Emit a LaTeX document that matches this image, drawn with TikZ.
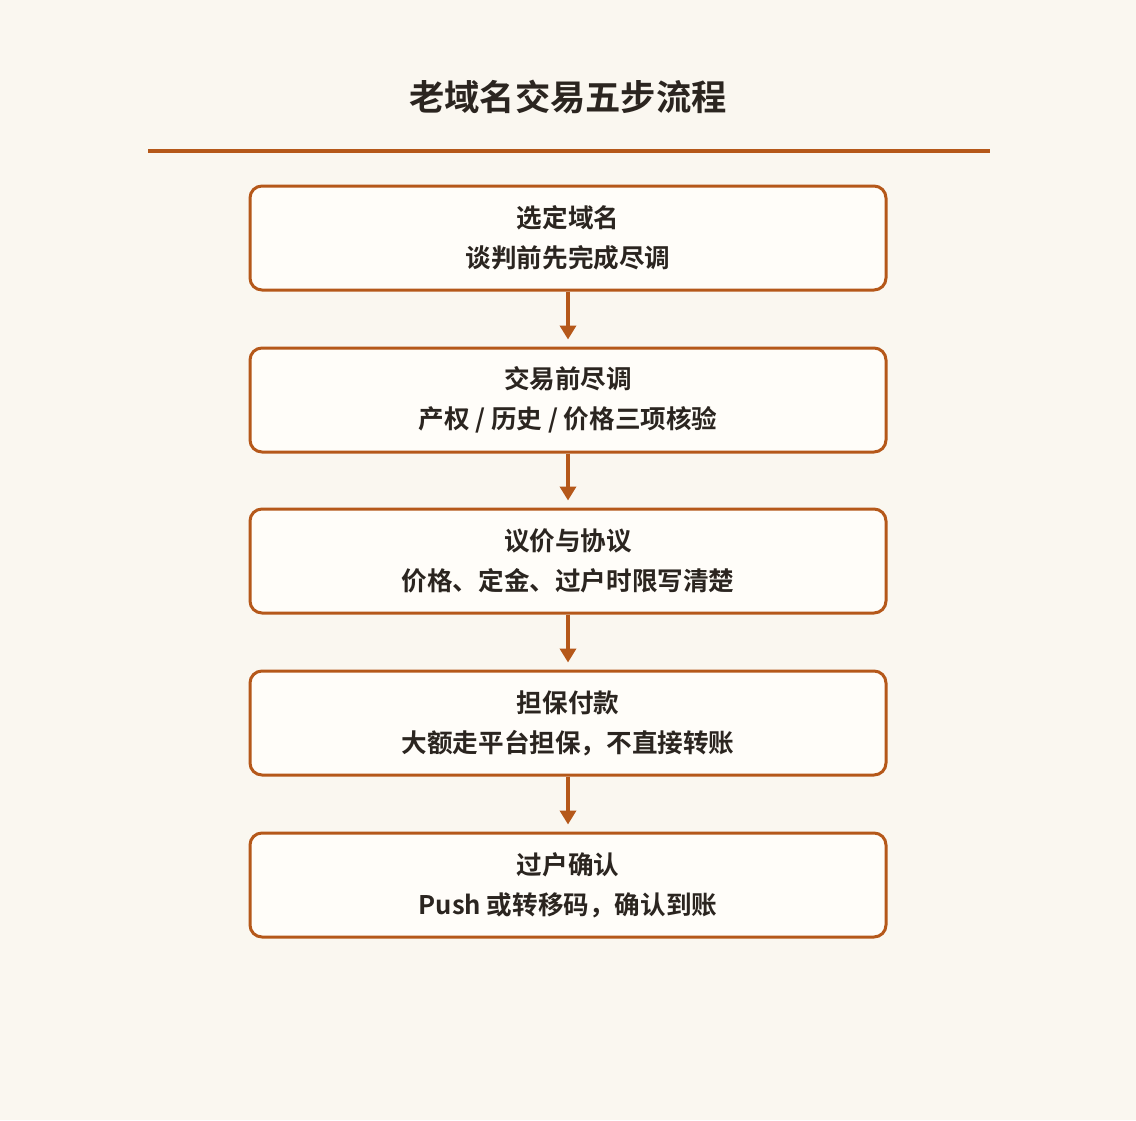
\documentclass[tikz,border=0pt]{standalone}
\usepackage{fontspec}
\setmainfont{Noto Sans CJK SC}[BoldFont={Noto Sans CJK SC Bold}]
\newfontfamily\cjkb{Noto Sans CJK SC Bold}
\usetikzlibrary{arrows.meta}
\definecolor{bgc}{HTML}{FAF7F0}
\definecolor{accent}{HTML}{B5581A}
\definecolor{boxfill}{HTML}{FFFDF9}
\definecolor{txt}{HTML}{2B2520}
\begin{document}
\begin{tikzpicture}[x=1pt,y=-1pt,
  stepbox/.style={draw=accent,line width=3pt,fill=boxfill,rounded corners=12pt,
    minimum width=636pt,minimum height=104pt,align=center,text=txt,
    font=\cjkb\fontsize{25.6}{40}\selectfont,inner sep=0pt},
  flow/.style={draw=accent,line width=3.5pt,-{Triangle[length=14pt,width=16pt]},shorten >=7pt}]
\fill[bgc] (0,0) rectangle (1136,1120);
\useasboundingbox (0,0) rectangle (1136,1120);
\node[text=txt,font=\cjkb\fontsize{35.3}{40}\selectfont] (title) at (568,97) {老域名交易五步流程};
\coordinate (rl) at (148,151);
\coordinate (rr) at (990,151);
\draw[accent,line width=4pt] (rl) -- (rr);
\node[stepbox] (b1) at (568,238) {选定域名\\谈判前先完成尽调};
\node[stepbox] (b2) at (568,400) {交易前尽调\\产权 / 历史 / 价格三项核验};
\node[stepbox] (b3) at (568,561) {议价与协议\\价格、定金、过户时限写清楚};
\node[stepbox] (b4) at (568,723) {担保付款\\大额走平台担保，不直接转账};
\node[stepbox] (b5) at (568,885) {过户确认\\Push 或转移码，确认到账};
\draw[flow] (b1) -- (b2);
\draw[flow] (b2) -- (b3);
\draw[flow] (b3) -- (b4);
\draw[flow] (b4) -- (b5);
\end{tikzpicture}
\end{document}
